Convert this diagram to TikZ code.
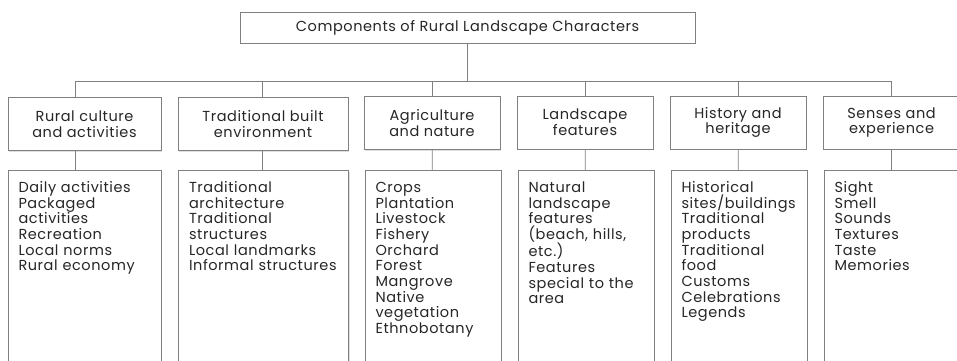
\documentclass[tikz,border=0pt]{standalone}
\usepackage{fontspec}
\setmainfont[LetterSpace=4]{Poppins}
\usetikzlibrary{positioning,calc,shadows}

\begin{document}
\begin{tikzpicture}[x=1pt,y=-1pt,
  font=\fontsize{14.5}{15.7}\selectfont,
  box/.style={draw=black!50, line width=0.7pt, fill=white, text=black!85,
    drop shadow={shadow xshift=1.2pt, shadow yshift=-1.2pt, opacity=0.25}},
  catbox/.style={box, align=center, minimum height=53pt, inner sep=0pt},
  listbox/.style={box, anchor=north, align=left, inner xsep=10.5pt,
    inner ysep=10pt, text height=12pt, text depth=190pt},
  link/.style={draw=black!50, line width=0.7pt}]
\clip (0,0) rectangle (957,360);

% top
\node[box, name=root, minimum width=455pt, minimum height=31pt] at (467.5,27.5)
  {Components of Rural Landscape Characters};

% bus
\coordinate (b1) at (75,81);
\coordinate (b2) at (262.5,81);
\coordinate (b3) at (432,81);
\coordinate (b4) at (585,81);
\coordinate (b5) at (738,81);
\coordinate (b6) at (891,81);

% categories
\node[catbox, name=culture, minimum width=153pt] at (84.5,124) {Rural culture\\and activities};
\node[catbox, name=built, minimum width=170pt] at (263,124) {Traditional built\\environment};
\node[catbox, name=agri, minimum width=136pt] at (432,123) {Agriculture\\and nature};
\node[catbox, name=land, minimum width=136pt] at (585,122.5) {Landscape\\features};
\node[catbox, name=hist, minimum width=136pt] at (738,122.5) {History and\\heritage};
\node[catbox, name=sense, minimum width=136pt] at (891.5,122.5) {Senses and\\experience};

% lists
\node[listbox, name=cultureitems, text width=132pt] at (84.5,170)
  {Daily activities\\Packaged\\activities\\Recreation\\Local norms\\Rural economy};
\node[listbox, name=builtitems, text width=149pt] at (263.5,170)
  {Traditional\\architecture\\Traditional\\structures\\Local landmarks\\Informal structures};
\node[listbox, name=agriitems, text width=115pt] at (433,170)
  {Crops\\Plantation\\Livestock\\Fishery\\Orchard\\Forest\\Mangrove\\Native\\vegetation\\Ethnobotany};
\node[listbox, name=landitems, text width=115pt] at (586,170)
  {Natural\\landscape\\features\\(beach, hills,\\etc.)\\Features\\special to the\\area};
\node[listbox, name=histitems, text width=115pt] at (739,170)
  {Historical\\sites/buildings\\Traditional\\products\\Traditional\\food\\Customs\\Celebrations\\Legends};
\node[listbox, name=senseitems, text width=115pt] at (892,170)
  {Sight\\Smell\\Sounds\\Textures\\Taste\\Memories};

% connections
\draw[link] (root.south) -- (root.south |- b1);
\draw[link] (b1) -- (b6);
\draw[link] (b1) -- (b1 |- culture.north);
\draw[link] (b2) -- (b2 |- built.north);
\draw[link] (b3) -- (b3 |- agri.north);
\draw[link] (b4) -- (b4 |- land.north);
\draw[link] (b5) -- (b5 |- hist.north);
\draw[link] (b6) -- (b6 |- sense.north);
\draw[link] (b1 |- culture.south) -- (b1 |- cultureitems.north);
\draw[link] (b2 |- built.south) -- (b2 |- builtitems.north);
\draw[link] (agri) -- (agriitems);
\draw[link] (land) -- (landitems);
\draw[link] (hist) -- (histitems);
\draw[link] (b6 |- sense.south) -- (b6 |- senseitems.north);
\end{tikzpicture}
\end{document}
